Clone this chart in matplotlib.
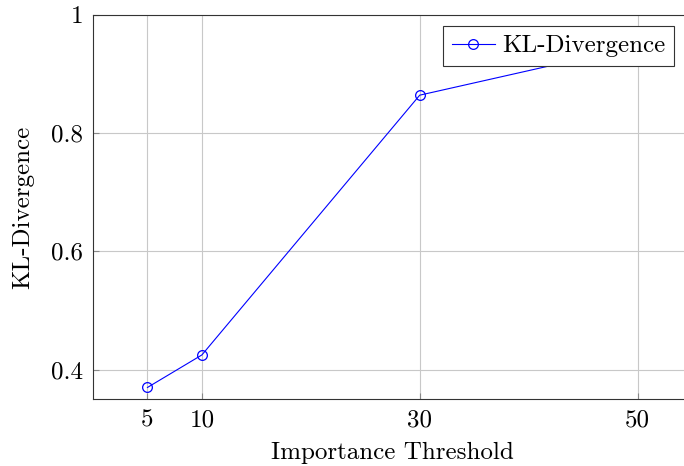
import matplotlib
matplotlib.use("Agg")
import matplotlib.pyplot as plt

thresholds = [5, 10, 30, 50]
kl_values = [0.370, 0.425, 0.864, 0.947]
x_ticks = [5, 10, 30, 50]
y_ticks = [0.4, 0.6, 0.8, 1.0]
y_tick_labels = ["0.4", "0.6", "0.8", "1"]

plt.rcParams["font.family"] = ["cmr10", "DejaVu Serif"]
plt.rcParams["mathtext.fontset"] = "cm"
plt.rcParams["axes.unicode_minus"] = False

fig = plt.figure(figsize=(6.84, 4.66), dpi=100)
left, right, bottom, top = 93 / 684, 692 / 684, 1 - 399.3 / 466, 1 - 14.7 / 466
ax = fig.add_axes([left, bottom, right - left, top - bottom])

ax.plot(thresholds, kl_values, color=(0, 0, 1), lw=0.8, marker="o", ms=7,
        mfc="none", mec=(0, 0, 1), mew=0.9, label="KL-Divergence", zorder=3)

ax.set_xlim(0, 55)
ax.set_ylim(0.35, 1.0)
ax.set_xticks(x_ticks)
ax.set_xticklabels([str(t) for t in x_ticks])
ax.set_yticks(y_ticks)
ax.set_yticklabels(y_tick_labels)
ax.grid(True, color="#c8c8c8", lw=0.8)
ax.set_axisbelow(True)
ax.tick_params(direction="in", length=4, width=0.8, color="#888888",
               labelsize=18, pad=7)
for s in ax.spines.values():
    s.set_linewidth(0.8)
    s.set_color("#333333")

ax.set_xlabel("Importance Threshold", fontsize=18, labelpad=8)
ax.set_ylabel("KL-Divergence", fontsize=18, labelpad=12)

leg = ax.legend(loc="upper right", bbox_to_anchor=(674 / 684, 1 - 26 / 466),
                bbox_transform=fig.transFigure, fontsize=18, frameon=True,
                fancybox=False, edgecolor="#333333", framealpha=1,
                borderaxespad=0, handlelength=1.7, borderpad=0.35,
                handletextpad=0.3)
leg.get_frame().set_linewidth(0.8)

fig.savefig("out.png", dpi=100)
